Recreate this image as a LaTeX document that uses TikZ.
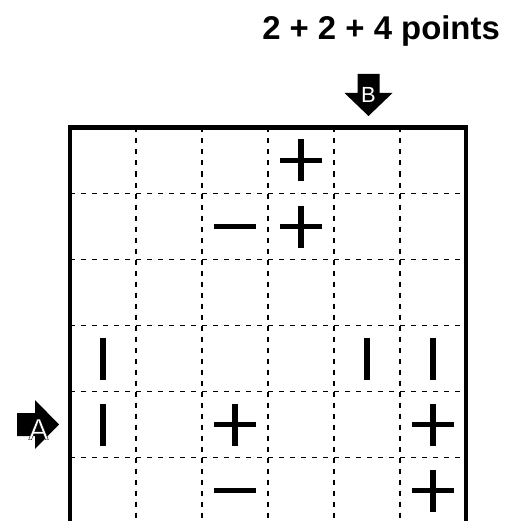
\documentclass[tikz,border=0pt]{standalone}
\usepackage{fontspec}
\setmainfont{Liberation Sans}
\newfontfamily\outlinedfont[FakeBold=1.2]{Liberation Sans}
\begin{document}
\begin{tikzpicture}[x=1bp,y=-1bp,
  gridline/.style={line width=1.5bp, dash pattern=on 5bp off 6bp},
  border/.style={line width=4.5bp},
  sym/.style={line width=5.4bp},
  arrowshape/.style={fill=black},
  lbl/.style={text=white, inner sep=0pt}]
\useasboundingbox (0,0) rectangle (513,521);
\clip (0,0) rectangle (513,521);
% title
\node[anchor=base east, inner sep=0pt, font=\fontsize{33}{36}\selectfont\bfseries] (title) at (500,40) {2 + 2 + 4 points};
% dashed grid
\foreach \i in {1,...,5} {
  \draw[gridline] ({70+66*\i},127.5) -- ({70+66*\i},523.5);
  \draw[gridline] (70,{127.5+66*\i}) -- (466,{127.5+66*\i});
}
% border
\draw[border] (70,127.5) rectangle (466,523.5);
% plus signs
\foreach \c/\r in {4/1,4/2,3/5,6/5,6/6} {
  \draw[sym] ({37+66*\c-21},{94.5+66*\r}) -- ++(42,0);
  \draw[sym] ({37+66*\c},{94.5+66*\r-21}) -- ++(0,42);
}
% minus signs
\foreach \c/\r in {3/2,3/6} {
  \draw[sym] ({37+66*\c-21},{94.5+66*\r}) -- ++(42,0);
}
% bars
\foreach \c/\r in {1/4,5/4,6/4,1/5} {
  \draw[sym] ({37+66*\c},{94.5+66*\r-21}) -- ++(0,42);
}
% arrow A
\fill[arrowshape] (17,413) -- (35,413) -- (35,400) -- (59,424.5) -- (35,449) -- (35,436) -- (17,436) -- cycle;
\node[lbl, font=\fontsize{30}{32}\selectfont\outlinedfont] (labelA) at (38.5,429.5) {\special{pdf:code 0 G}A};
% arrow B
\fill[arrowshape] (357.5,74) -- (379.5,74) -- (379.5,93) -- (392.5,93) -- (368.5,116) -- (344.5,93) -- (357.5,93) -- cycle;
\node[lbl, font=\fontsize{22}{24}\selectfont] (labelB) at (368.5,95) {B};
\end{tikzpicture}
\end{document}
